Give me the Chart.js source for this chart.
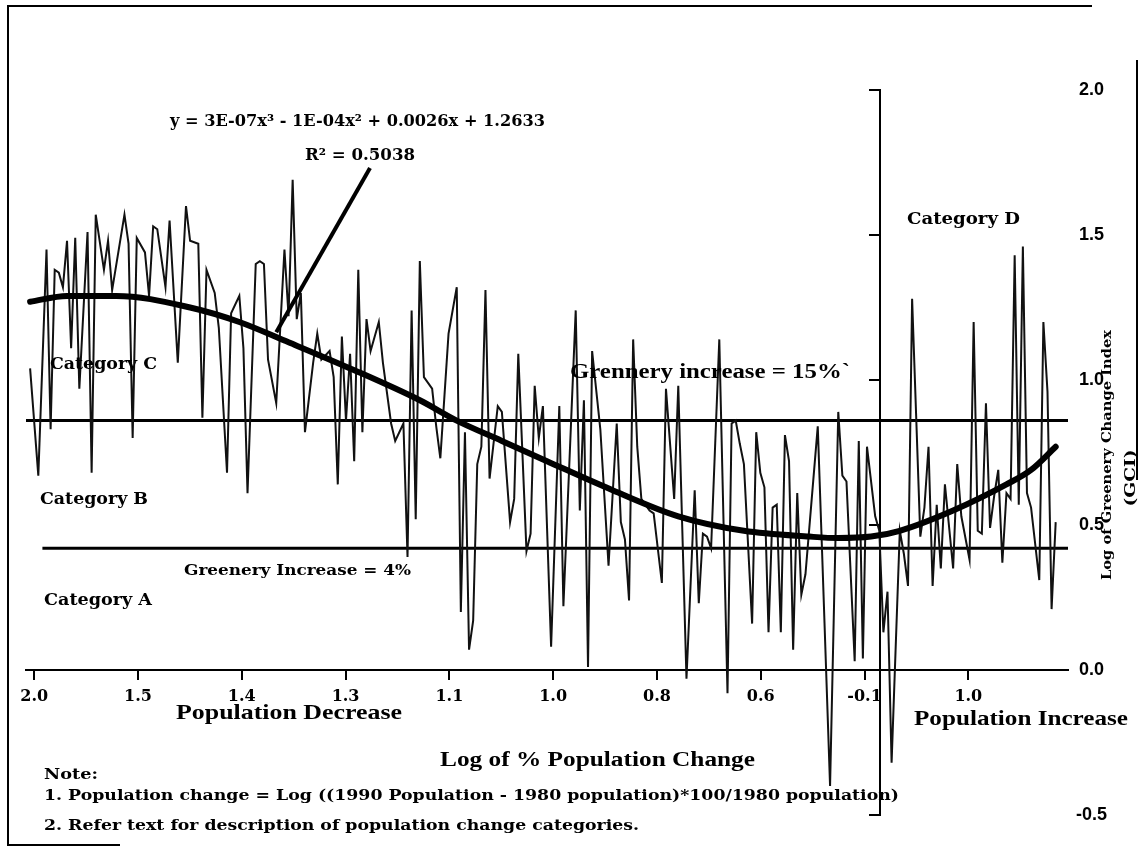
<!DOCTYPE html>
<html>
<head>
<meta charset="utf-8">
<script src="https://cdn.jsdelivr.net/npm/chart.js@4.4.1/dist/chart.umd.min.js"></script>
<style>
  html, body { margin: 0; padding: 0; background: #fff; }
  #wrap { width: 1139px; height: 848px; position: relative; }
</style>
</head>
<body>
<div id="wrap"><canvas id="gciChart"></canvas></div>
<script>
// observation number along the category axis, and Log GCI read for it
const obsIndex = [
  1, 3, 5, 6, 7, 8, 9, 10, 11, 12, 13, 15, 16, 17, 19, 20, 21, 24, 25, 26,
  27, 29, 30, 31, 32, 34, 35, 37, 39, 40, 42, 43, 44, 46, 47, 49, 50, 52, 53, 54,
  56, 57, 58, 59, 61, 63, 64, 65, 66, 67, 68, 70, 71, 72, 74, 75, 76, 77, 78, 79,
  80, 81, 82, 83, 84, 86, 87, 89, 90, 92, 93, 94, 95, 96, 97, 99, 100, 101, 103, 105,
  106, 107, 108, 109, 110, 111, 112, 113, 115, 116, 118, 119, 120, 122, 123, 124, 125, 126, 128, 130,
  131, 133, 134, 135, 136, 137, 138, 140, 142, 144, 145, 146, 147, 148, 149, 150, 152, 153, 155, 156,
  158, 159, 161, 163, 164, 165, 166, 167, 169, 171, 172, 173, 174, 175, 177, 178, 179, 180, 181, 182,
  183, 184, 185, 186, 187, 188, 189, 190, 193, 194, 196, 198, 199, 200, 202, 203, 204, 205, 207, 208,
  209, 210, 211, 213, 214, 215, 216, 218, 219, 220, 221, 222, 223, 224, 226, 227, 228, 230, 231, 232,
  233, 234, 235, 236, 237, 238, 239, 240, 241, 242, 243, 244, 245, 247, 248, 249, 250, 251
];
const gciValues = [
  1.04, 0.67, 1.45, 0.83, 1.38, 1.37, 1.32, 1.48, 1.11, 1.49, 0.97, 1.51, 0.68, 1.57, 1.38, 1.48, 1.31, 1.57, 1.47, 0.80,
  1.49, 1.44, 1.29, 1.53, 1.52, 1.32, 1.55, 1.06, 1.60, 1.48, 1.47, 0.87, 1.38, 1.30, 1.18, 0.68, 1.23, 1.29, 1.11, 0.61,
  1.40, 1.41, 1.40, 1.07, 0.92, 1.45, 1.22, 1.69, 1.21, 1.30, 0.82, 1.06, 1.16, 1.07, 1.10, 1.01, 0.64, 1.15, 0.86, 1.09,
  0.72, 1.38, 0.82, 1.21, 1.10, 1.20, 1.06, 0.85, 0.79, 0.85, 0.39, 1.24, 0.52, 1.41, 1.01, 0.97, 0.84, 0.73, 1.16, 1.32,
  0.20, 0.82, 0.07, 0.17, 0.71, 0.77, 1.31, 0.66, 0.91, 0.89, 0.51, 0.59, 1.09, 0.41, 0.47, 0.98, 0.80, 0.91, 0.08, 0.91,
  0.22, 0.90, 1.24, 0.55, 0.93, 0.01, 1.10, 0.83, 0.36, 0.85, 0.51, 0.45, 0.24, 1.14, 0.77, 0.59, 0.55, 0.54, 0.30, 0.97,
  0.59, 0.98, -0.03, 0.62, 0.23, 0.47, 0.46, 0.42, 1.14, -0.08, 0.85, 0.86, 0.78, 0.71, 0.16, 0.82, 0.68, 0.63, 0.13, 0.56,
  0.57, 0.13, 0.81, 0.72, 0.07, 0.61, 0.26, 0.33, 0.84, 0.43, -0.40, 0.89, 0.67, 0.65, 0.03, 0.79, 0.04, 0.77, 0.53, 0.48,
  0.13, 0.27, -0.32, 0.48, 0.40, 0.29, 1.28, 0.46, 0.56, 0.77, 0.29, 0.57, 0.35, 0.64, 0.35, 0.71, 0.53, 0.38, 1.20, 0.48,
  0.47, 0.92, 0.49, 0.60, 0.69, 0.37, 0.61, 0.59, 1.43, 0.57, 1.46, 0.61, 0.56, 0.31, 1.20, 0.96, 0.21, 0.51
];

// polynomial trend as drawn
const trendIndex  = [1, 10, 22, 40, 52, 64, 79, 96, 105, 116, 127, 143, 159, 175, 191, 198, 206, 213, 226, 239, 245, 251];
const trendValues = [1.27, 1.29, 1.29, 1.25, 1.20, 1.13, 1.04, 0.93, 0.86, 0.79, 0.72, 0.62, 0.53, 0.48, 0.46, 0.455, 0.46, 0.48, 0.55, 0.64, 0.69, 0.77];

// category boundaries (Log GCI)
const boundaryCD = 0.86;   // greenery increase = 15%
const boundaryAB = 0.42;   // greenery increase = 4%

const xTickPos    = [2, 27.3, 52.6, 77.9, 103.2, 128.5, 153.8, 179.1, 204.4, 229.7];
const xTickLabels = ['2.0', '1.5', '1.4', '1.3', '1.1', '1.0', '0.8', '0.6', '-0.1', '1.0'];

const xMin = 0, xMax = 254;
const yMin = -0.5, yMax = 2.0, yStep = 0.5;
const innerAxisAt = 208.2;  // where the inner GCI axis crosses the category axis

const serif = '"DejaVu Serif", serif';
const times = '"Liberation Serif", serif';

// draw text squeezed/stretched to a given width
function fitText(ctx, text, x, y, width, font) {
    ctx.save();
    ctx.font = font;
    ctx.textAlign = 'left';
    ctx.textBaseline = 'middle';
    const w = ctx.measureText(text).width;
    ctx.translate(x, y);
    ctx.scale(width / w, 1);
    ctx.fillText(text, 0, 0);
    ctx.restore();
}

function fitTextUp(ctx, text, cx, cy, width, font) {
    ctx.save();
    ctx.font = font;
    ctx.textAlign = 'center';
    ctx.textBaseline = 'middle';
    const w = ctx.measureText(text).width;
    ctx.translate(cx, cy);
    ctx.rotate(-Math.PI / 2);
    ctx.scale(width / w, 1);
    ctx.fillText(text, 0, 0);
    ctx.restore();
}

const notesPlugin = {
    id: 'notes',
    afterDraw(chart) {
        const { ctx } = chart;
        const xs = chart.scales.x, ys = chart.scales.y;
        ctx.save();
        ctx.fillStyle = '#000';
        ctx.strokeStyle = '#000';

        // page frame
        ctx.lineWidth = 2;
        ctx.beginPath();
        ctx.moveTo(1092, 6); ctx.lineTo(8, 6); ctx.lineTo(8, 846);
        ctx.moveTo(8, 845); ctx.lineTo(120, 845);
        ctx.moveTo(1137, 60); ctx.lineTo(1137, 480);
        ctx.stroke();

        // pointer from the equation to the trend line
        ctx.lineWidth = 4;
        ctx.beginPath();
        ctx.moveTo(370, 168);
        ctx.lineTo(xs.getPixelForValue(61), ys.getPixelForValue(1.165));
        ctx.stroke();

        fitText(ctx, 'y = 3E-07x³ - 1E-04x² + 0.0026x + 1.2633', 170, 122, 375, 'bold 16px ' + serif);
        fitText(ctx, 'R² = 0.5038', 305, 156, 110, 'bold 16px ' + serif);

        fitText(ctx, 'Category C', 50, 365, 107, 'bold 16px ' + serif);
        fitText(ctx, 'Category B', 40, 500, 108, 'bold 16px ' + serif);
        fitText(ctx, 'Category A', 44, 601, 108, 'bold 16px ' + serif);
        fitText(ctx, 'Category D', 907, 220, 113, 'bold 16px ' + serif);

        fitText(ctx, 'Grennery increase = 15%`', 570, 373, 280, 'bold 20px ' + times);
        fitText(ctx, 'Greenery Increase = 4%', 184, 571, 227, 'bold 15px ' + serif);

        fitText(ctx, 'Population Decrease', 176, 714, 226, 'bold 21px ' + times);
        fitText(ctx, 'Population Increase', 914, 720, 214, 'bold 21px ' + times);
        fitText(ctx, 'Log of % Population Change', 440, 761, 315, 'bold 20px ' + times);

        fitText(ctx, 'Note:', 44, 775, 54, 'bold 15px ' + serif);
        fitText(ctx, '1. Population change = Log ((1990 Population - 1980 population)*100/1980 population)', 44, 796, 855, 'bold 15px ' + serif);
        fitText(ctx, '2. Refer text for description of population change categories.', 44, 826, 595, 'bold 15px ' + serif);

        // GCI axis title, partly cut at the page edge
        fitTextUp(ctx, 'Log of Greenery Change Index', 1108, 455, 250, 'bold 13px ' + serif);
        fitTextUp(ctx, '(GCI)', 1131, 478, 57, 'bold 15px ' + serif);
        ctx.restore();
    }
};

const ctx = document.getElementById('gciChart');

new Chart(ctx, {
    type: 'line',
    data: {
        datasets: [
            {
                label: 'Trend',
                data: trendIndex.map((v, i) => ({ x: v, y: trendValues[i] })),
                borderColor: '#000',
                borderWidth: 6,
                borderCapStyle: 'round',
                pointRadius: 0,
                cubicInterpolationMode: 'monotone'
            },
            {
                label: 'Log GCI',
                data: obsIndex.map((v, i) => ({ x: v, y: gciValues[i] })),
                borderColor: '#111',
                borderWidth: 2,
                pointRadius: 0,
                tension: 0
            },
            {
                label: '15%',
                data: [{ x: xMin, y: boundaryCD }, { x: xMax, y: boundaryCD }],
                borderColor: '#000',
                borderWidth: 3,
                pointRadius: 0
            },
            {
                label: '4%',
                data: [{ x: 4, y: boundaryAB }, { x: xMax, y: boundaryAB }],
                borderColor: '#000',
                borderWidth: 3,
                pointRadius: 0
            }
        ]
    },
    options: {
        responsive: true,
        maintainAspectRatio: false,
        animation: false,
        events: [],
        layout: { padding: { left: 26, top: 90, bottom: 33, right: 0 } },
        plugins: {
            legend: { display: false },
            tooltip: { enabled: false }
        },
        scales: {
            x: {
                type: 'linear',
                min: xMin,
                max: xMax,
                position: { y: 0 },
                border: { display: true, color: '#000', width: 2 },
                grid: { drawOnChartArea: false, drawTicks: true, tickLength: 9, color: '#000', lineWidth: 2 },
                afterBuildTicks: (scale) => { scale.ticks = xTickPos.map(v => ({ value: v })); },
                ticks: {
                    autoSkip: false,
                    maxRotation: 0,
                    padding: 8,
                    color: '#000',
                    font: { family: serif, weight: 'bold', size: 16 },
                    callback: (v, i) => xTickLabels[i]
                }
            },
            y: {
                type: 'linear',
                position: 'right',
                min: yMin,
                max: yMax,
                border: { display: false },
                grid: { display: false, drawTicks: false },
                afterFit: (scale) => { scale.width = 71; },
                ticks: {
                    stepSize: yStep,
                    padding: 8,
                    crossAlign: 'center',
                    color: '#000',
                    font: { family: '"Liberation Sans", sans-serif', weight: 'bold', size: 18 },
                    callback: (v) => v.toFixed(1)
                }
            },
            y2: {
                type: 'linear',
                position: { x: innerAxisAt },
                min: yMin,
                max: yMax,
                border: { display: true, color: '#000', width: 2 },
                grid: { drawOnChartArea: false, drawTicks: true, tickLength: 10, color: '#000', lineWidth: 2 },
                ticks: { display: false, stepSize: yStep }
            }
        }
    },
    plugins: [notesPlugin]
});
</script>
</body>
</html>
